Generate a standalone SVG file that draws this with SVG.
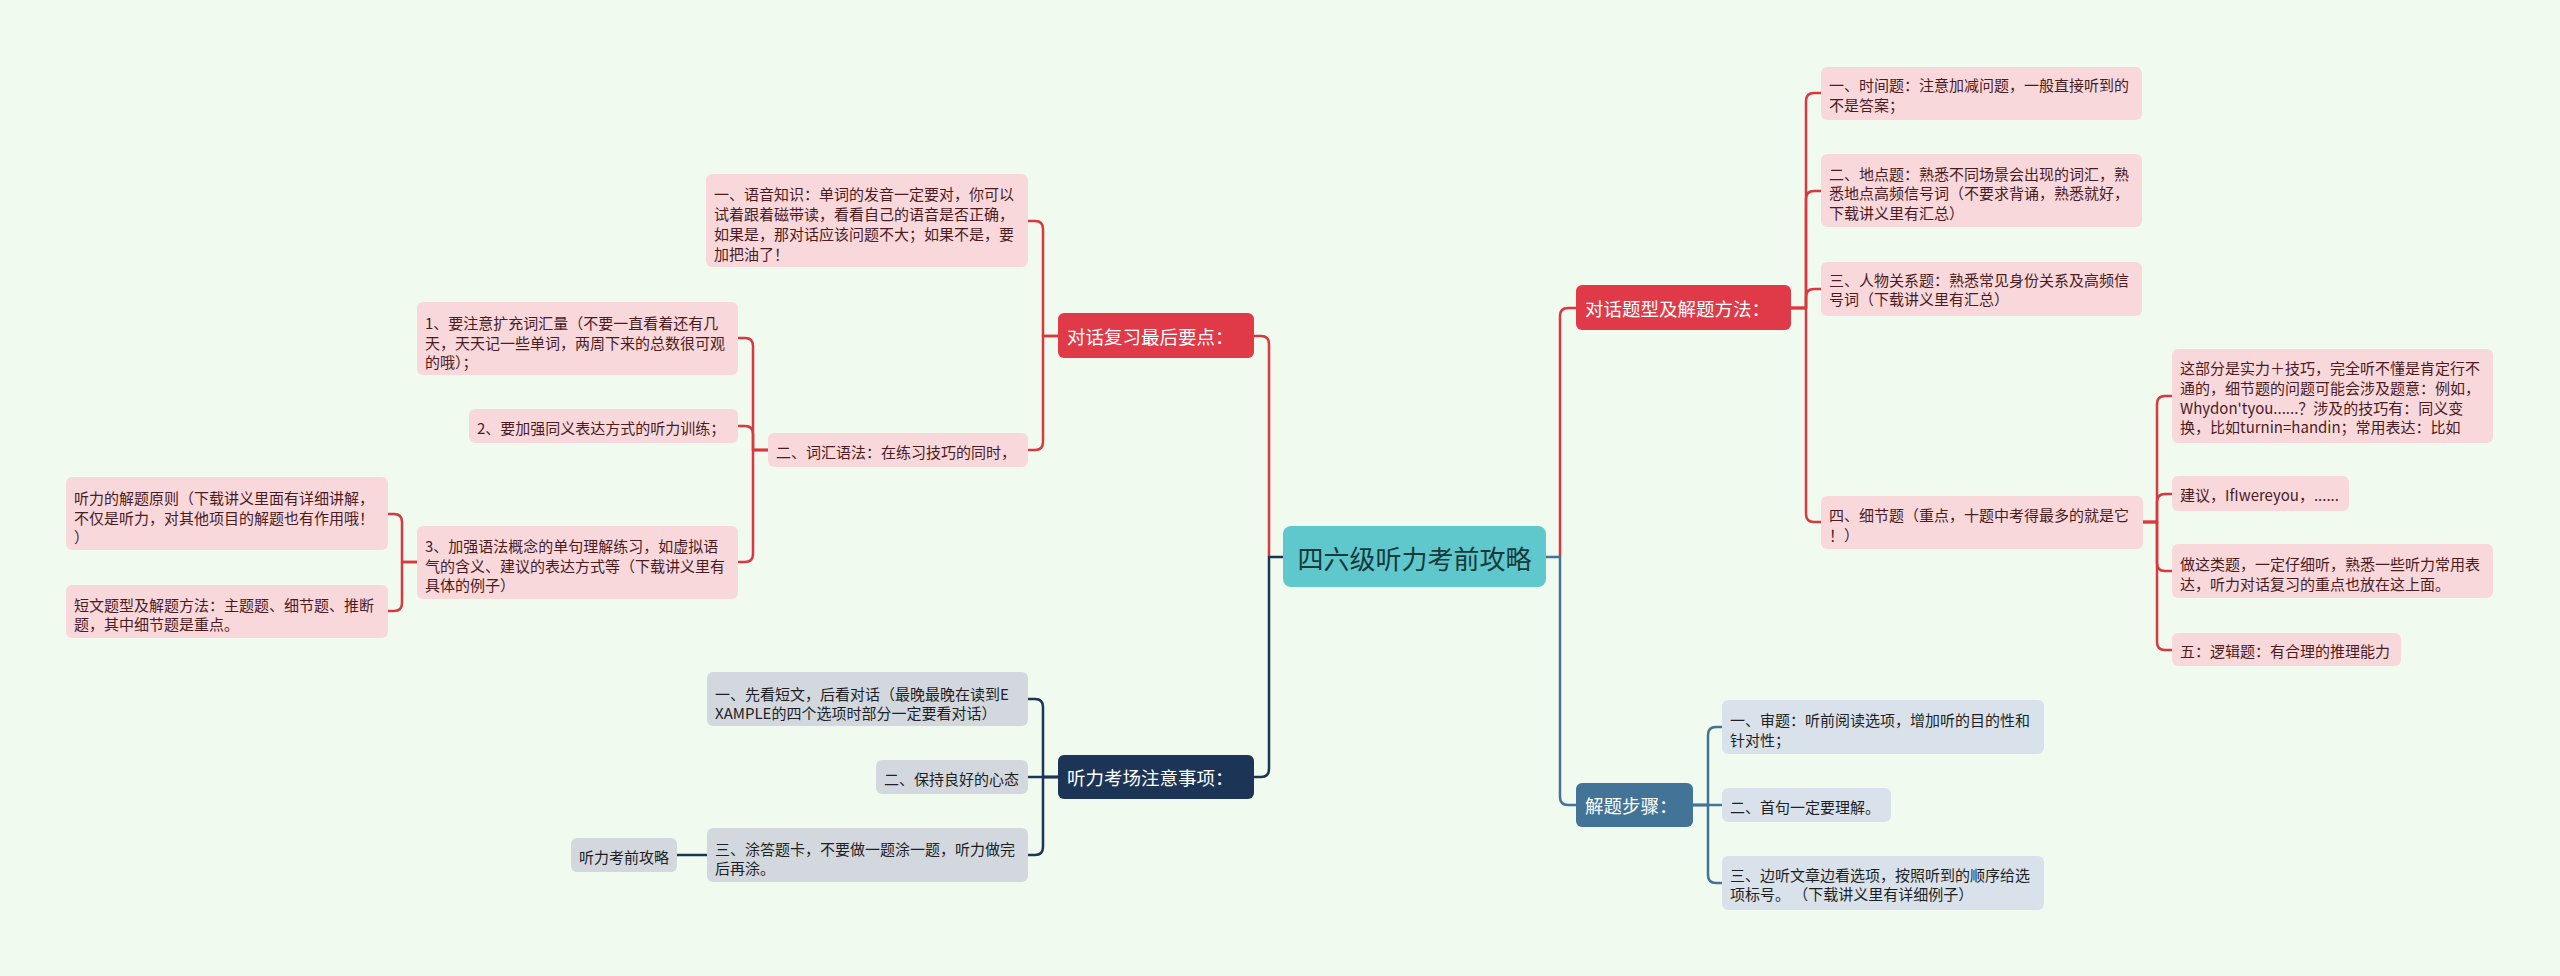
<svg xmlns="http://www.w3.org/2000/svg" width="2560" height="976" viewBox="0 0 2560 976">
<style>
text{font-family:"Noto Sans CJK SC","Liberation Sans",sans-serif;dominant-baseline:central}
.p rect{fill:#f9d8dc}
.p text{fill:#4a1c1f;font-size:15px}
.g rect{fill:#d3d8df}
.g text{fill:#1d1f24;font-size:15px}
.b rect{fill:#d9e2ea}
.b text{fill:#1d1f24;font-size:15px}
.l1 text{fill:#ffffff;font-size:18.5px}
.red rect{fill:#e03a48}
.navy rect{fill:#1c3557}
.steel rect{fill:#437498}
.c{fill:none;stroke-width:2.5;stroke-linejoin:round}
.cr{stroke:#d9383f}
.cn{stroke:#1c3557}
.cb{stroke:#437498}
</style>
<rect width="2560" height="976" fill="#f0faef"/>
<g id="connectors">
<path class="c cr" d="M1269,557 V344 Q1269,336 1261,336 H1254"/>
<path class="c cn" d="M1283,557 H1269 V769 Q1269,777 1261,777 H1254"/>
<path class="c cr" d="M1560,557 V316 Q1560,308 1568,308 H1576"/>
<path class="c cb" d="M1546,557 H1560 V797 Q1560,805 1568,805 H1576"/>
<path class="c cr" d="M1058,336 H1043 V229 Q1043,221 1035,221 H1028"/>
<path class="c cr" d="M1058,336 H1043 V442 Q1043,450 1035,450 H1028"/>
<path class="c cr" d="M768,450 H753 V346 Q753,338 745,338 H738"/>
<path class="c cr" d="M768,450 H753 V434 Q753,426 745,426 H738"/>
<path class="c cr" d="M768,450 H753 V554 Q753,562 745,562 H738"/>
<path class="c cr" d="M417,562 H402 V522 Q402,514 394,514 H388"/>
<path class="c cr" d="M417,562 H402 V603 Q402,611 394,611 H388"/>
<path class="c cn" d="M1058,777 H1043 V707 Q1043,699 1035,699 H1028"/>
<path class="c cn" d="M1058,777 H1028"/>
<path class="c cn" d="M1058,777 H1043 V847 Q1043,855 1035,855 H1028"/>
<path class="c cn" d="M707,855 H677"/>
<path class="c cr" d="M1791,308 H1806 V101 Q1806,93 1814,93 H1821"/>
<path class="c cr" d="M1791,308 H1806 V199 Q1806,191 1814,191 H1821"/>
<path class="c cr" d="M1791,308 H1806 V297 Q1806,289 1814,289 H1821"/>
<path class="c cr" d="M1791,308 H1806 V514 Q1806,522 1814,522 H1821"/>
<path class="c cr" d="M2143,522 H2157 V404 Q2157,396 2165,396 H2172"/>
<path class="c cr" d="M2143,522 H2157 V502 Q2157,494 2165,494 H2172"/>
<path class="c cr" d="M2143,522 H2157 V563 Q2157,571 2165,571 H2172"/>
<path class="c cr" d="M2143,522 H2157 V642 Q2157,650 2165,650 H2172"/>
<path class="c cb" d="M1693,805 H1708 V735 Q1708,727 1716,727 H1722"/>
<path class="c cb" d="M1693,805 H1722"/>
<path class="c cb" d="M1693,805 H1708 V875 Q1708,883 1716,883 H1722"/>
</g>
<g id="center">
<rect x="1283" y="526" width="263" height="61" rx="8" fill="#5ec8cc"/>
<text x="1414.5" y="557" text-anchor="middle" font-size="26" fill="#17393b">四六级听力考前攻略</text>
</g>
<g id="n_fuxi" class="l1 red"><rect x="1058" y="313" width="196" height="45" rx="6"/><text x="1067" y="336">对话复习最后要点：</text></g>
<g id="n_kaochang" class="l1 navy"><rect x="1058" y="755" width="196" height="44" rx="6"/><text x="1067" y="777">听力考场注意事项：</text></g>
<g id="n_tixing" class="l1 red"><rect x="1576" y="285" width="215" height="45" rx="6"/><text x="1585" y="308">对话题型及解题方法：</text></g>
<g id="n_buzhou" class="l1 steel"><rect x="1576" y="783" width="117" height="44" rx="6"/><text x="1585" y="805">解题步骤：</text></g>
<g id="n_yuyin" class="p"><rect x="706" y="174" width="322" height="93" rx="6"/>
<text x="714" y="193">一、语音知识：单词的发音一定要对，你可以</text>
<text x="714" y="213">试着跟着磁带读，看看自己的语音是否正确，</text>
<text x="714" y="233">如果是，那对话应该问题不大；如果不是，要</text>
<text x="714" y="253">加把油了！</text></g>
<g id="n_cihui" class="p"><rect x="768" y="433" width="260" height="34" rx="6"/><text x="776" y="451">二、词汇语法：在练习技巧的同时，</text></g>
<g id="n_c1" class="p"><rect x="417" y="302" width="321" height="73" rx="6"/>
<text x="425" y="322">1、要注意扩充词汇量（不要一直看着还有几</text>
<text x="425" y="342">天，天天记一些单词，两周下来的总数很可观</text>
<text x="425" y="361">的哦）；</text></g>
<g id="n_c2" class="p"><rect x="469" y="409" width="269" height="34" rx="6"/><text x="477" y="427">2、要加强同义表达方式的听力训练；</text></g>
<g id="n_c3" class="p"><rect x="417" y="526" width="321" height="73" rx="6"/>
<text x="425" y="545">3、加强语法概念的单句理解练习，如虚拟语</text>
<text x="425" y="565">气的含义、建议的表达方式等（下载讲义里有</text>
<text x="425" y="584">具体的例子）</text></g>
<g id="n_d1" class="p"><rect x="66" y="477" width="322" height="73" rx="6"/>
<text x="74" y="497">听力的解题原则（下载讲义里面有详细讲解，</text>
<text x="74" y="517">不仅是听力，对其他项目的解题也有作用哦！</text>
<text x="74" y="536">）</text></g>
<g id="n_d2" class="p"><rect x="66" y="585" width="322" height="53" rx="6"/>
<text x="74" y="604">短文题型及解题方法：主题题、细节题、推断</text>
<text x="74" y="623">题，其中细节题是重点。</text></g>
<g id="n_k1" class="g"><rect x="707" y="672" width="321" height="54" rx="6"/>
<text x="715" y="693">一、先看短文，后看对话（最晚最晚在读到E</text>
<text x="715" y="712">XAMPLE的四个选项时部分一定要看对话）</text></g>
<g id="n_k2" class="g"><rect x="876" y="760" width="152" height="34" rx="6"/><text x="884" y="778">二、保持良好的心态</text></g>
<g id="n_k3" class="g"><rect x="707" y="828" width="321" height="54" rx="6"/>
<text x="715" y="848">三、涂答题卡，不要做一题涂一题，听力做完</text>
<text x="715" y="867">后再涂。</text></g>
<g id="n_k4" class="g"><rect x="571" y="838" width="106" height="34" rx="6"/><text x="579" y="856">听力考前攻略</text></g>
<g id="n_r1" class="p"><rect x="1821" y="67" width="321" height="53" rx="6"/>
<text x="1829" y="84">一、时间题：注意加减问题，一般直接听到的</text>
<text x="1829" y="104">不是答案；</text></g>
<g id="n_r2" class="p"><rect x="1821" y="154" width="321" height="73" rx="6"/>
<text x="1829" y="173">二、地点题：熟悉不同场景会出现的词汇，熟</text>
<text x="1829" y="192">悉地点高频信号词（不要求背诵，熟悉就好，</text>
<text x="1829" y="212">下载讲义里有汇总）</text></g>
<g id="n_r3" class="p"><rect x="1821" y="262" width="321" height="54" rx="6"/>
<text x="1829" y="279">三、人物关系题：熟悉常见身份关系及高频信</text>
<text x="1829" y="298">号词（下载讲义里有汇总）</text></g>
<g id="n_r4" class="p"><rect x="1821" y="496" width="322" height="53" rx="6"/>
<text x="1829" y="514">四、细节题（重点，十题中考得最多的就是它</text>
<text x="1829" y="534">！）</text></g>
<g id="n_x1" class="p"><rect x="2172" y="349" width="321" height="94" rx="6"/>
<text x="2180" y="367">这部分是实力＋技巧，完全听不懂是肯定行不</text>
<text x="2180" y="387">通的，细节题的问题可能会涉及题意：例如，</text>
<text x="2180" y="407">Whydon'tyou......？涉及的技巧有：同义变</text>
<text x="2180" y="426">换，比如turnin=handin；常用表达：比如</text></g>
<g id="n_x2" class="p"><rect x="2172" y="476" width="177" height="35" rx="6"/><text x="2180" y="494">建议，IfIwereyou，......</text></g>
<g id="n_x3" class="p"><rect x="2172" y="544" width="321" height="54" rx="6"/>
<text x="2180" y="563">做这类题，一定仔细听，熟悉一些听力常用表</text>
<text x="2180" y="583">达，听力对话复习的重点也放在这上面。</text></g>
<g id="n_x4" class="p"><rect x="2172" y="633" width="229" height="33" rx="6"/><text x="2180" y="650">五：逻辑题：有合理的推理能力</text></g>
<g id="n_s1" class="b"><rect x="1722" y="700" width="322" height="54" rx="6"/>
<text x="1730" y="719">一、审题：听前阅读选项，增加听的目的性和</text>
<text x="1730" y="739">针对性；</text></g>
<g id="n_s2" class="b"><rect x="1722" y="788" width="169" height="34" rx="6"/><text x="1730" y="806">二、首句一定要理解。</text></g>
<g id="n_s3" class="b"><rect x="1722" y="856" width="322" height="54" rx="6"/>
<text x="1730" y="874">三、边听文章边看选项，按照听到的顺序给选</text>
<text x="1730" y="893" xml:space="preserve">项标号。 （下载讲义里有详细例子）</text></g>
</svg>
